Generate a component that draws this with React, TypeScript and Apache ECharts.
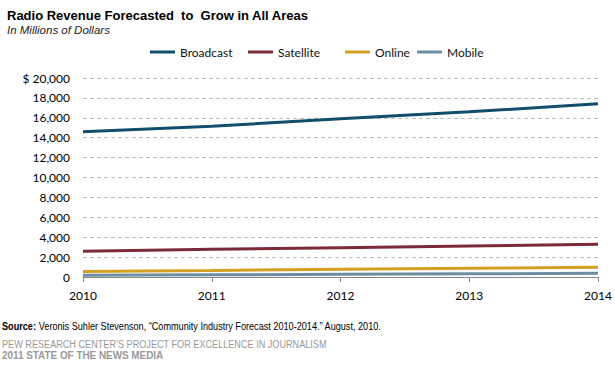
import React, { useEffect, useRef } from "react";
import * as echarts from "echarts";

const years = ["2010", "2011", "2012", "2013", "2014"];
const broadcast = [14600, 15150, 15900, 16600, 17400];
const satellite = [2600, 2780, 2950, 3120, 3300];
const online = [560, 660, 780, 880, 980];
const mobile = [180, 220, 270, 320, 380];
const seriesNames = ["Broadcast", "Satellite", "Online", "Mobile"];
const colors = ["#114e6d", "#7b2b36", "#d4a021", "#6b8fa0"];
const legendLefts = [145, 243, 340, 412];

export default function App() {
  const ref = useRef<HTMLDivElement>(null);
  useEffect(() => {
    const chart = echarts.init(ref.current!, null, { renderer: "svg" });
    const data = [broadcast, satellite, online, mobile];
    chart.setOption({
      animation: false,
      backgroundColor: "#ffffff",
      title: [
        {
          text: "Radio Revenue Forecasted  to  Grow in All Areas",
          left: 2,
          top: 4,
          textStyle: { fontFamily: "Liberation Sans", fontSize: 13, fontWeight: "bold", color: "#000" },
        },
        {
          text: "In Millions of Dollars",
          left: 2,
          top: 19,
          textStyle: { fontFamily: "Liberation Sans", fontSize: 11.5, fontStyle: "italic", fontWeight: "normal", color: "#222" },
        },
      ],
      legend: seriesNames.map((n, i) => ({
        top: 41,
        left: legendLefts[i],
        itemWidth: 25,
        itemHeight: 3,
        icon: "rect",
        textStyle: { fontFamily: "Lato", fontSize: 12, color: "#111" },
        data: [n],
      })),
      grid: { left: 83, right: 17, top: 78, bottom: 88 },
      xAxis: {
        type: "category",
        data: years,
        boundaryGap: false,
        axisLine: { lineStyle: { color: "#888", width: 1 } },
        axisTick: { show: true, length: 5, lineStyle: { color: "#888" } },
        axisLabel: { fontFamily: "Lato", fontSize: 12, color: "#000", margin: 12 },
      },
      yAxis: {
        type: "value",
        min: 0,
        max: 20000,
        interval: 2000,
        axisLine: { show: false },
        axisTick: { show: false },
        splitLine: { lineStyle: { type: [4, 3], color: "#bdbdbd", width: 1 } },
        axisLabel: {
          fontFamily: "Lato",
          fontSize: 12,
          color: "#000",
          margin: 13,
          formatter: (v: number) => {
            const s = v.toLocaleString("en-US");
            return v === 20000 ? "$ " + s : s;
          },
        },
      },
      series: data.map((d, i) => ({
        name: seriesNames[i],
        type: "line",
        data: d,
        symbol: "none",
        lineStyle: { width: 3, color: colors[i] },
        itemStyle: { color: colors[i] },
      })),
      graphic: [
        {
          type: "text",
          x: 2,
          y: 320,
          scaleX: 0.83,
          style: {
            rich: {
              b: { fontFamily: "Liberation Sans", fontSize: 11, fontWeight: "bold", fill: "#000" },
              n: { fontFamily: "Liberation Sans", fontSize: 11, fill: "#000" },
            },
            text: "{b|Source:} {n|Veronis Suhler Stevenson, \u201cCommunity Industry Forecast 2010-2014.\u201d August, 2010.}",
          },
        },
        {
          type: "text",
          x: 2,
          y: 339,
          scaleX: 0.83,
          style: { text: "PEW RESEARCH CENTER\u2019S PROJECT FOR EXCELLENCE IN JOURNALISM", fontFamily: "Liberation Sans", fontSize: 11, fill: "#999" },
        },
        {
          type: "text",
          x: 2,
          y: 350,
          scaleX: 0.9,
          style: { text: "2011 STATE OF THE NEWS MEDIA", fontFamily: "Liberation Sans", fontSize: 11, fontWeight: "bold", fill: "#999" },
        },
      ],
    });
    return () => chart.dispose();
  }, []);
  return <div ref={ref} style={{ width: 615, height: 365, position: "absolute", left: 0, top: 0 }} />;
}
